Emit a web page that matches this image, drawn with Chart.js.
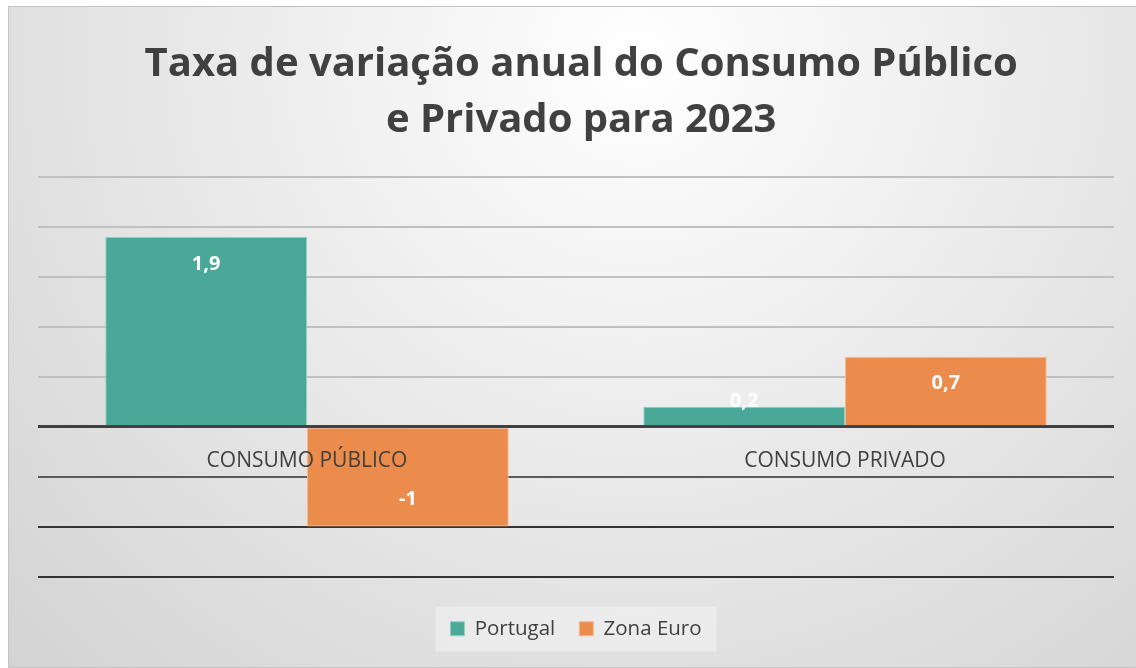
<!DOCTYPE html>
<html>
<head>
<meta charset="utf-8">
<script src="https://cdn.jsdelivr.net/npm/chart.js@4"></script>
<style>
  html, body { margin: 0; padding: 0; background: #ffffff; overflow: hidden; }
  #frame {
    position: absolute; left: 8px; top: 6px; width: 1140px; height: 660px;
    border-left: 1px solid #c4c4c4; border-top: 1px solid #c4c4c4; border-bottom: 1px solid #c4c4c4;
    background: radial-gradient(ellipse farthest-corner at 55% 8%, #ffffff 0%, #ebebeb 45%, #d3d3d3 100%);
  }
  #wrap { position: absolute; left: 0; top: 0; width: 1127px; height: 660px; }
</style>
</head>
<body>
<div id="frame">
  <div id="wrap"><canvas id="barChart"></canvas></div>
</div>
<script>
// Data
const categories = ['CONSUMO PÚBLICO', 'CONSUMO PRIVADO'];
const portugal = [1.9, 0.2];
const zonaEuro = [-1, 0.7];
const seriesNames = ['Portugal', 'Zona Euro'];
const titleLines = [' Taxa de variação anual do Consumo Público', ' e Privado para 2023'];

const FONT = "'Open Sans', 'Noto Sans', sans-serif";
const LEGEND_PAD = 24;
const LEGEND_TOP = 18;

// white value labels at the inside end of each bar
const valueLabels = {
  id: 'valueLabels',
  afterDatasetsDraw(chart) {
    const ctx = chart.ctx;
    ctx.save();
    ctx.font = 'bold 20px ' + FONT;
    ctx.fillStyle = '#ffffff';
    ctx.textAlign = 'center';
    ctx.textBaseline = 'middle';
    chart.data.datasets.forEach((ds, i) => {
      chart.getDatasetMeta(i).data.forEach((bar, j) => {
        const v = ds.data[j];
        const dir = v >= 0 ? 1 : -1;
        let y = bar.y + 27 * dir;
        const lim = bar.base - 24 * dir;
        if (dir > 0 && y > lim) y = lim;
        if (dir < 0 && y < lim) y = lim;
        ctx.fillText(String(v).replace('.', ','), bar.x, y);
      });
    });
    ctx.restore();
  }
};

// light box behind the legend
const legendBox = {
  id: 'legendBox',
  beforeDraw(chart) {
    const lg = chart.legend;
    if (!lg) return;
    const ctx = chart.ctx;
    const cy = lg.top + LEGEND_TOP + LEGEND_PAD + 10;
    ctx.save();
    ctx.fillStyle = 'rgba(255,255,255,0.35)';
    ctx.fillRect(lg.left + (lg.width - 281) / 2, cy - 22, 281, 45);
    ctx.restore();
  }
};

new Chart(document.getElementById('barChart').getContext('2d'), {
  type: 'bar',
  data: {
    labels: categories,
    datasets: [
      { label: seriesNames[0], data: portugal, backgroundColor: '#4aa898', borderColor: '#8fd0c5', borderWidth: 1 },
      { label: seriesNames[1], data: zonaEuro, backgroundColor: '#ec8c4c', borderColor: '#f6b98f', borderWidth: 1 }
    ]
  },
  options: {
    responsive: true,
    maintainAspectRatio: false,
    animation: false,
    categoryPercentage: 0.75,
    barPercentage: 1,
    layout: { padding: { left: 29, right: 22, top: 0, bottom: 18 } },
    plugins: {
      title: {
        display: true,
        text: titleLines,
        color: '#404040',
        font: { family: FONT, size: 40, weight: 'bold', lineHeight: 1.4 },
        padding: { top: 30, bottom: 28 }
      },
      legend: {
        position: 'bottom',
        title: { display: true, text: '', font: { size: 10, lineHeight: LEGEND_TOP / 10 }, padding: 0 },
        labels: {
          color: '#404040',
          font: { family: FONT, size: 20.5 },
          boxWidth: 14, boxHeight: 14,
          padding: LEGEND_PAD
        }
      },
      tooltip: { enabled: false }
    },
    scales: {
      x: {
        position: { y: 0 },
        grid: { display: false, drawTicks: false },
        border: { display: false },
        ticks: { z: 1, color: '#404040', font: { family: FONT, size: 21 }, padding: 22, maxRotation: 0 }
      },
      y: {
        min: -1.5,
        max: 2.5,
        ticks: { display: false, stepSize: 0.5 },
        border: { display: false },
        grid: {
          drawTicks: false,
          color: c => c.tick.value === 0 ? '#404040' : (c.tick.value > 0 ? '#c0c0c0' : (c.tick.value === -0.5 ? '#5a5a5a' : '#333333')),
          lineWidth: c => c.tick.value === 0 ? 3 : 2
        }
      }
    }
  },
  plugins: [valueLabels, legendBox]
});
</script>
</body>
</html>
